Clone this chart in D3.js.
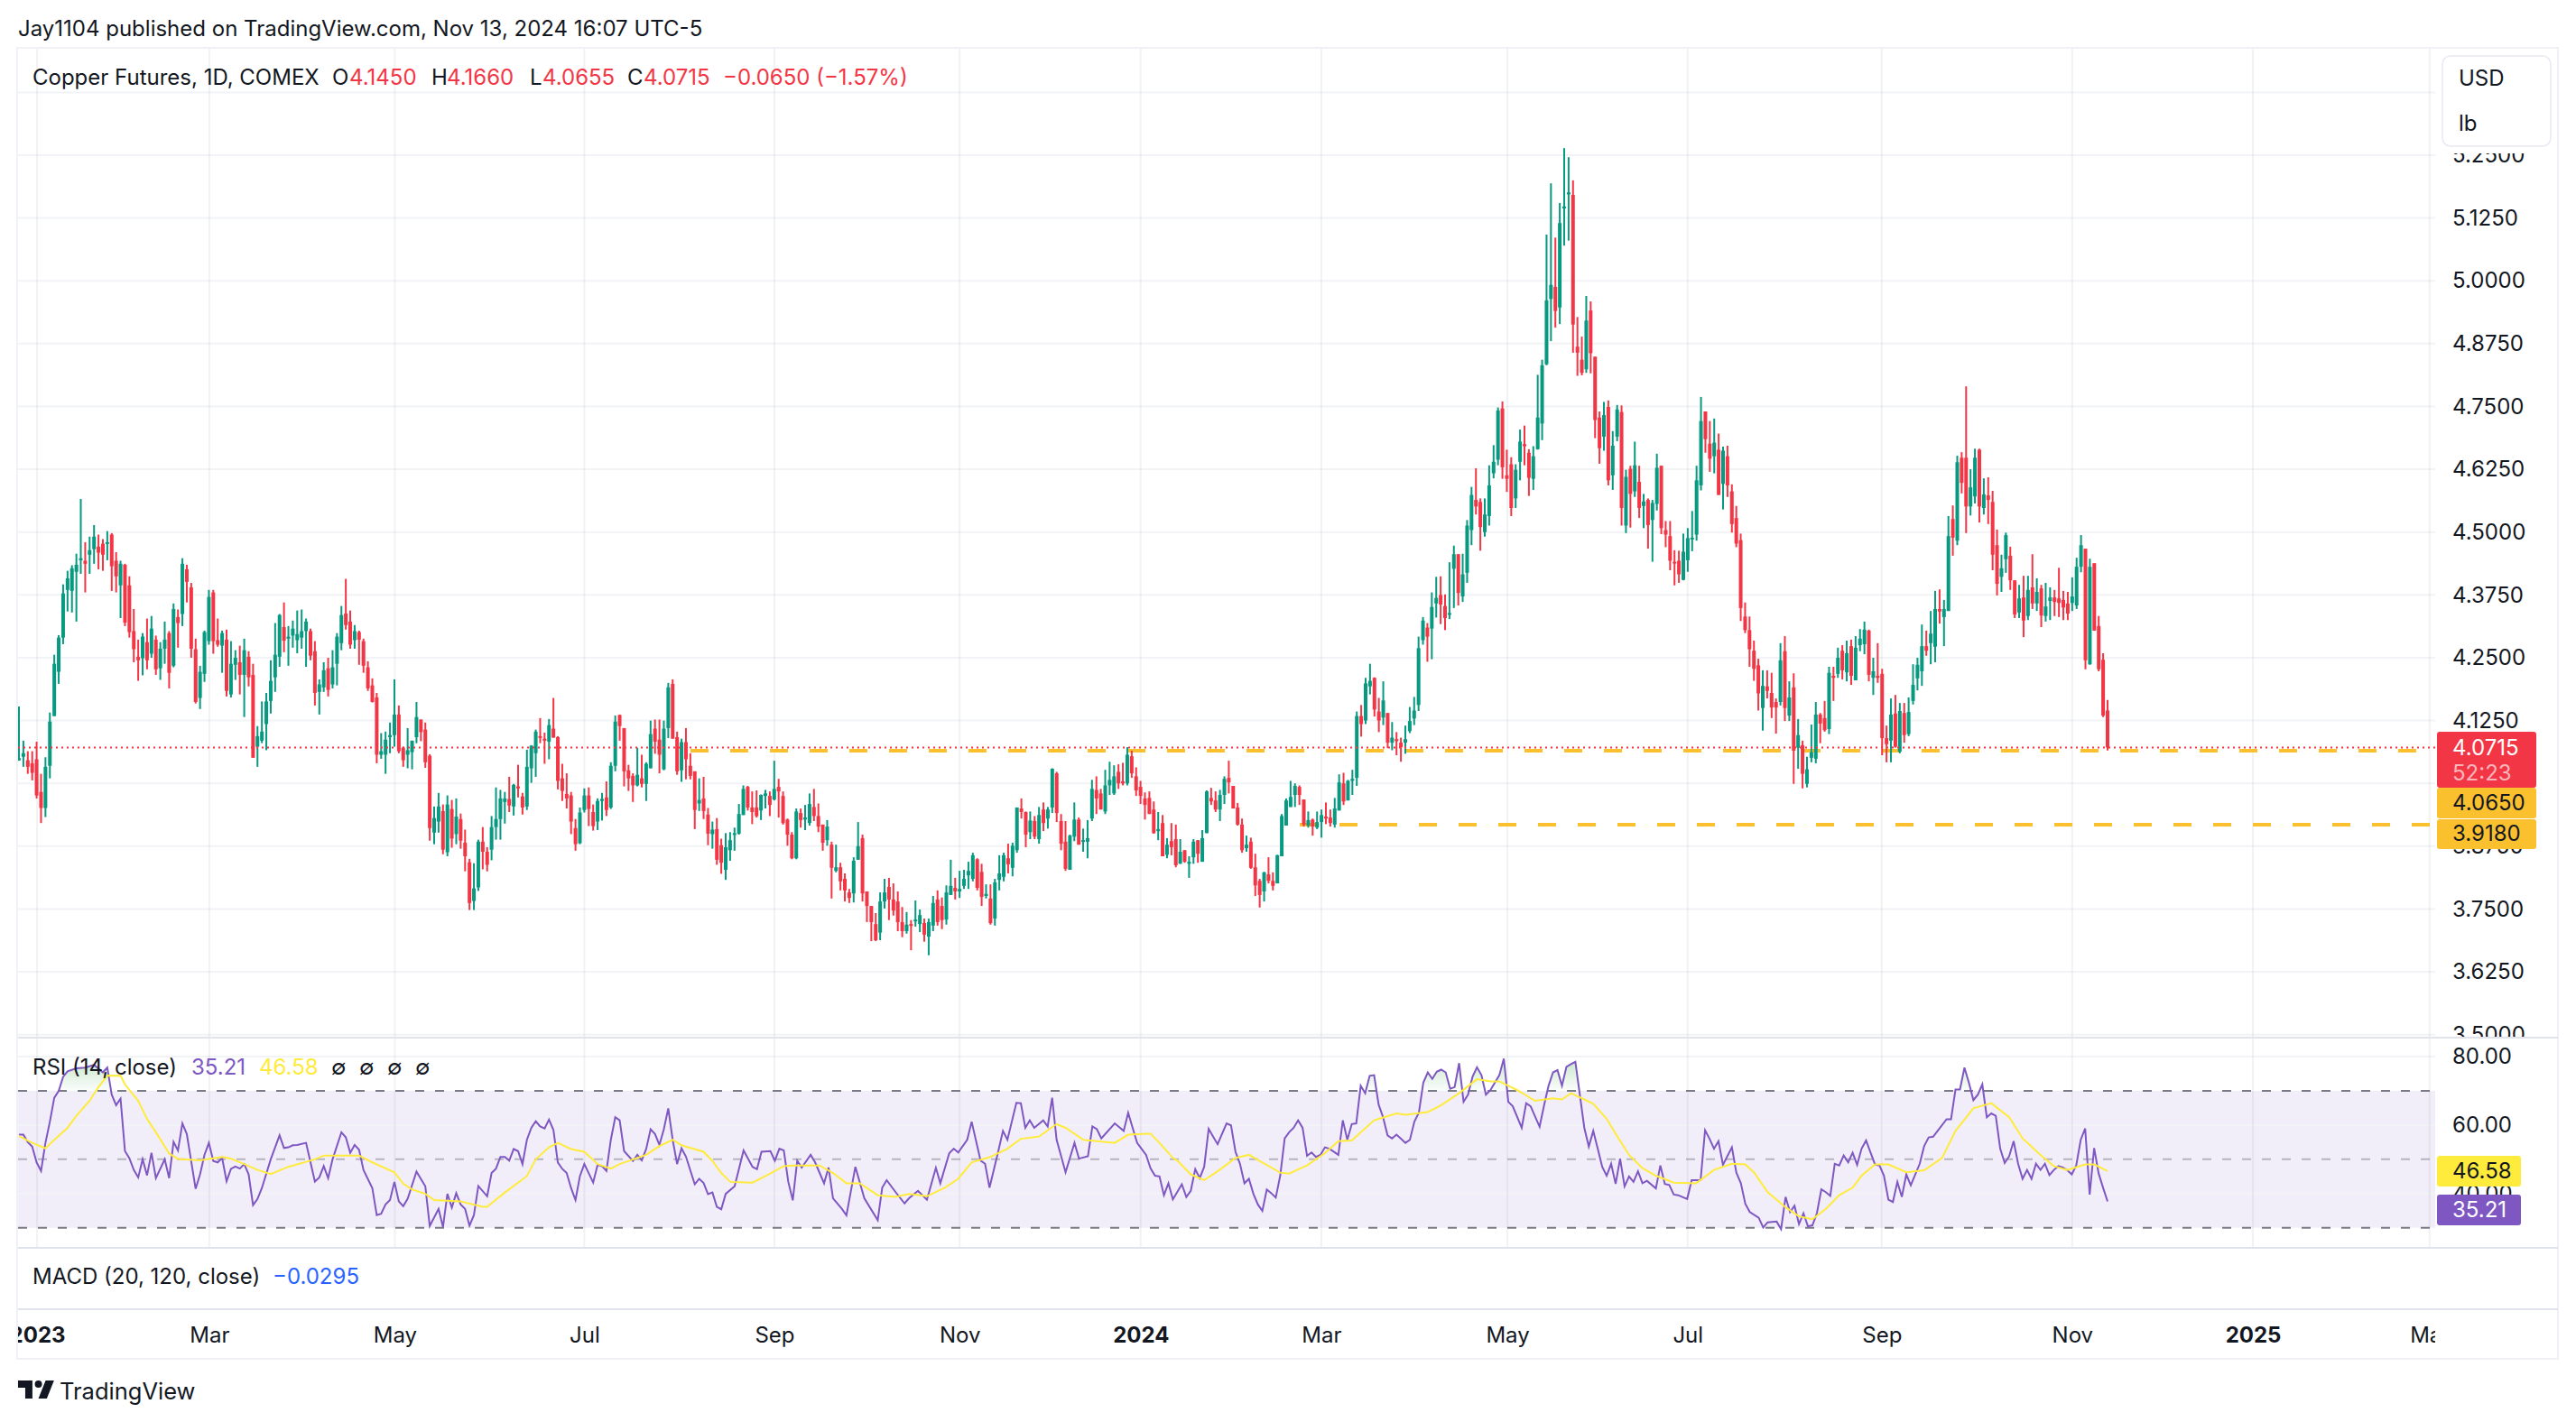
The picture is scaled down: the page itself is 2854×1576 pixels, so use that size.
<!DOCTYPE html>
<html>
<head>
<meta charset="utf-8">
<title>Copper Futures</title>
<script src="https://cdn.jsdelivr.net/npm/d3@7"></script>
<style>
	html, body { margin: 0; background: #fff; }
	svg { display: block; }
	text { font-family: Inter, "Noto Sans", sans-serif; fill: #131722; }
</style>
</head>
<body>
<svg id="chart" width="2854" height="1576"></svg>
<script>
const opens = [
	4.046,4.053,4.046,4.04,4.048,3.983,3.951,4.035,4.134,4.222,4.29,4.385,4.383,4.421,4.444,4.443,4.455,4.466,4.471,4.477,4.477,4.495,4.443,4.394,4.435,4.394,4.303,4.252,4.249,4.281,4.258,4.286,4.229,4.268,4.299,4.234,4.331,4.337,4.426,4.39,4.267,4.17,4.218,4.283,4.38,4.285,4.274,4.286,4.177,4.236,4.241,4.216,4.252,4.216,4.073,4.085,4.118,4.164,4.211,4.252,4.311,4.288,4.294,4.285,4.29,4.303,4.303,4.263,4.182,4.191,4.229,4.197,4.238,4.279,4.338,4.322,4.285,4.301,4.283,4.231,4.195,4.171,4.057,4.057,4.092,4.096,4.137,4.071,4.057,4.062,4.092,4.127,4.107,4.055,3.902,3.924,3.945,3.863,3.949,3.899,3.929,3.882,3.843,3.766,3.793,3.884,3.864,3.868,3.913,3.929,3.963,3.969,3.954,3.994,3.974,3.954,4.03,4.06,4.094,4.089,4.083,4.109,4.092,4.01,3.979,3.976,3.911,3.881,3.947,3.976,3.943,3.924,3.965,3.972,3.952,4.035,4.136,4.11,4.026,4.015,3.996,4.01,3.999,4.03,4.109,4.087,4.028,4.11,4.198,4.092,4.026,4.082,4.035,4.024,3.96,3.97,3.938,3.899,3.909,3.877,
	3.828,3.867,3.898,3.9,3.937,3.993,3.952,3.952,3.946,3.975,3.975,3.968,3.993,3.975,3.928,3.898,3.851,3.941,3.928,3.921,3.953,3.935,3.918,3.887,3.878,3.826,3.833,3.81,3.783,3.781,3.848,3.891,3.785,3.756,3.72,3.703,3.765,3.794,3.769,3.765,3.724,3.706,3.72,3.726,3.72,3.722,3.695,3.717,3.769,3.756,3.729,3.778,3.792,3.785,3.796,3.817,3.81,3.849,3.824,3.776,3.771,3.731,3.808,3.814,3.851,3.832,3.867,3.95,3.943,3.903,3.925,3.889,3.948,3.93,3.952,4.02,3.925,3.884,3.828,3.894,3.928,3.884,3.884,3.93,3.987,3.98,3.944,3.996,3.98,4.023,4.004,4.0,4.054,4.014,3.993,3.97,3.971,3.948,3.905,3.921,3.858,3.885,3.889,3.84,3.867,3.84,3.853,3.887,3.844,3.901,3.971,3.966,3.948,3.977,4.011,3.995,3.952,3.918,3.871,3.884,3.833,3.806,3.785,3.819,3.806,3.801,3.855,3.916,3.953,3.977,3.993,3.968,3.916,3.928,3.912,3.923,3.934,3.932,3.918,3.946,4.0,3.966,4.005,4.011,4.134,4.125,4.193,4.21,4.143,4.131,4.14,4.081,4.088,4.081,4.081,4.104,4.129,4.156,4.285,4.31,4.308,4.358,4.375,
	4.353,4.337,4.427,4.456,4.372,4.419,4.504,4.564,4.56,4.5,4.532,4.617,4.644,4.746,4.613,4.635,4.567,4.64,4.675,4.658,4.606,4.665,4.716,4.834,4.964,4.988,4.947,5.144,5.172,5.171,4.869,4.843,4.824,4.941,4.849,4.728,4.69,4.749,4.613,4.69,4.739,4.513,4.626,4.581,4.6,4.552,4.564,4.524,4.556,4.632,4.504,4.492,4.441,4.443,4.405,4.444,4.486,4.495,4.593,4.74,4.676,4.651,4.664,4.596,4.651,4.581,4.528,4.484,4.332,4.305,4.264,4.235,
	4.15,4.193,4.18,4.162,4.162,4.263,4.135,4.191,4.071,4.076,3.999,4.051,4.049,4.137,4.13,4.108,4.214,4.218,4.264,4.221,4.273,4.205,4.275,4.277,4.304,4.21,4.214,4.218,4.09,4.085,4.139,4.063,4.14,4.098,4.164,4.209,4.223,4.273,4.279,4.272,4.347,4.331,4.343,4.526,4.483,4.648,4.648,4.551,4.571,4.664,4.548,4.573,4.56,4.474,4.411,4.446,4.453,4.404,4.34,4.37,4.333,4.39,4.358,4.388,4.333,4.363,4.37,4.368,4.365,4.358,4.359,4.354,4.431,4.467,4.237,4.438,4.313,4.246,4.145
];
const highs = [
	4.153,4.085,4.064,4.064,4.083,4.019,4.052,4.141,4.256,4.295,4.396,4.423,4.434,4.457,4.566,4.48,4.491,4.514,4.495,4.486,4.502,4.498,4.46,4.443,4.437,4.412,4.347,4.286,4.299,4.328,4.333,4.294,4.281,4.322,4.303,4.358,4.346,4.448,4.435,4.399,4.288,4.234,4.304,4.385,4.385,4.328,4.304,4.306,4.283,4.265,4.274,4.288,4.263,4.238,4.114,4.163,4.18,4.245,4.319,4.337,4.36,4.313,4.324,4.344,4.346,4.328,4.308,4.283,4.207,4.241,4.25,4.265,4.299,4.353,4.407,4.344,4.315,4.304,4.288,4.243,4.209,4.18,4.1,4.103,4.121,4.207,4.155,4.073,4.11,4.085,4.162,4.127,4.121,4.058,3.954,3.981,3.958,3.976,3.967,3.97,3.94,3.908,3.85,3.841,3.888,3.913,3.873,3.935,3.992,3.987,3.983,4.013,3.999,4.037,3.981,4.067,4.076,4.107,4.13,4.101,4.128,4.17,4.094,4.039,4.02,3.983,3.929,3.952,3.99,3.992,3.958,3.97,3.981,4.004,4.042,4.135,4.137,4.11,4.037,4.02,4.071,4.057,4.042,4.125,4.127,4.127,4.125,4.2,4.207,4.103,4.089,4.11,4.06,4.024,4.01,4.013,3.951,3.924,3.931,3.89,
	3.901,3.903,3.912,3.959,3.996,3.995,3.984,3.986,3.978,3.987,3.984,4.045,4.009,3.984,3.93,3.903,3.95,3.95,3.957,3.98,3.989,3.96,3.918,3.927,3.884,3.878,3.842,3.821,3.79,3.853,3.923,3.898,3.785,3.756,3.742,3.783,3.81,3.812,3.801,3.785,3.754,3.744,3.728,3.767,3.749,3.731,3.731,3.776,3.787,3.773,3.797,3.848,3.812,3.826,3.828,3.844,3.862,3.851,3.84,3.799,3.799,3.81,3.857,3.862,3.88,3.882,3.952,3.97,3.944,3.944,3.935,3.953,3.962,3.953,4.03,4.023,3.939,3.925,3.898,3.962,3.932,3.91,3.927,4.007,4.014,3.989,4.027,4.043,4.036,4.038,4.041,4.072,4.065,4.032,4.005,3.982,3.984,3.964,3.943,3.937,3.891,3.921,3.918,3.889,3.867,3.855,3.889,3.887,3.907,3.986,3.991,3.984,3.987,4.014,4.045,3.995,3.961,3.93,3.896,3.892,3.86,3.81,3.824,3.853,3.823,3.858,3.939,3.97,4.005,4.0,3.996,3.968,3.944,3.93,3.944,3.948,3.962,3.948,3.971,4.018,4.021,4.007,4.027,4.143,4.156,4.21,4.238,4.211,4.17,4.203,4.14,4.122,4.102,4.091,4.115,4.152,4.172,4.292,4.331,4.319,4.38,4.411,4.412,
	4.376,4.44,4.473,4.456,4.457,4.524,4.59,4.627,4.567,4.567,4.633,4.673,4.748,4.76,4.664,4.649,4.635,4.704,4.712,4.665,4.671,4.813,4.843,5.092,5.194,5.086,5.155,5.264,5.246,5.2,4.928,4.889,4.97,4.959,4.849,4.74,4.759,4.762,4.701,4.753,4.752,4.624,4.632,4.68,4.632,4.576,4.567,4.564,4.656,4.632,4.522,4.522,4.464,4.463,4.497,4.508,4.542,4.632,4.769,4.74,4.721,4.726,4.696,4.67,4.672,4.595,4.552,4.497,4.36,4.332,4.284,4.248,
	4.225,4.225,4.22,4.169,4.279,4.293,4.203,4.219,4.128,4.085,4.053,4.117,4.162,4.14,4.164,4.232,4.232,4.27,4.275,4.284,4.286,4.293,4.307,4.322,4.306,4.25,4.279,4.228,4.115,4.169,4.176,4.16,4.16,4.171,4.237,4.25,4.316,4.304,4.343,4.383,4.386,4.365,4.532,4.553,4.652,4.659,4.79,4.625,4.666,4.666,4.607,4.609,4.582,4.505,4.455,4.499,4.471,4.404,4.395,4.413,4.413,4.456,4.408,4.395,4.399,4.39,4.385,4.429,4.383,4.381,4.41,4.449,4.494,4.467,4.447,4.438,4.333,4.259,4.166
];
const lows = [
	4.045,4.033,4.019,4.006,3.97,3.921,3.933,4.01,4.134,4.198,4.277,4.342,4.34,4.322,4.417,4.38,4.417,4.437,4.426,4.423,4.444,4.383,4.38,4.329,4.313,4.29,4.241,4.204,4.215,4.227,4.25,4.216,4.206,4.238,4.189,4.231,4.27,4.313,4.36,4.25,4.159,4.148,4.202,4.276,4.258,4.272,4.22,4.173,4.171,4.206,4.177,4.132,4.193,4.051,4.033,4.08,4.066,4.139,4.182,4.232,4.261,4.234,4.27,4.259,4.268,4.232,4.245,4.155,4.137,4.182,4.173,4.189,4.195,4.265,4.306,4.268,4.268,4.236,4.22,4.184,4.161,4.04,4.049,4.019,4.06,4.073,4.06,4.033,4.03,4.028,4.08,4.084,4.031,3.886,3.879,3.902,3.859,3.855,3.872,3.879,3.87,3.825,3.748,3.748,3.786,3.829,3.825,3.847,3.888,3.888,3.92,3.943,3.936,3.972,3.938,3.947,4.001,4.013,4.08,4.039,4.048,4.091,3.988,3.965,3.95,3.899,3.866,3.879,3.942,3.915,3.906,3.907,3.926,3.935,3.949,4.024,4.085,3.994,3.985,3.963,3.994,3.992,3.965,4.03,4.059,4.02,4.026,4.09,4.089,4.017,4.003,4.008,4.008,3.909,3.945,3.929,3.877,3.87,3.838,3.82,
	3.808,3.846,3.866,3.898,3.937,3.946,3.919,3.932,3.927,3.95,3.935,3.966,3.932,3.918,3.876,3.849,3.849,3.912,3.907,3.916,3.925,3.903,3.866,3.876,3.771,3.823,3.787,3.765,3.762,3.763,3.848,3.765,3.724,3.686,3.686,3.688,3.751,3.728,3.737,3.706,3.694,3.701,3.668,3.715,3.704,3.685,3.658,3.706,3.717,3.71,3.719,3.778,3.769,3.772,3.79,3.79,3.805,3.787,3.756,3.771,3.719,3.717,3.787,3.805,3.821,3.815,3.862,3.93,3.873,3.889,3.889,3.88,3.905,3.91,3.941,3.923,3.867,3.826,3.828,3.885,3.878,3.864,3.851,3.925,3.939,3.948,3.939,3.977,3.977,3.989,3.996,3.996,4.011,3.975,3.959,3.928,3.939,3.9,3.887,3.855,3.851,3.857,3.833,3.84,3.842,3.812,3.84,3.842,3.844,3.901,3.957,3.943,3.925,3.959,3.98,3.95,3.916,3.862,3.864,3.83,3.776,3.753,3.765,3.801,3.787,3.801,3.855,3.916,3.953,3.953,3.957,3.914,3.912,3.896,3.909,3.892,3.919,3.914,3.912,3.946,3.957,3.966,3.977,3.995,4.093,4.118,4.177,4.133,4.102,4.116,4.07,4.066,4.056,4.043,4.059,4.1,4.116,4.144,4.276,4.242,4.247,4.33,4.317,
	4.305,4.327,4.349,4.354,4.361,4.399,4.474,4.535,4.463,4.491,4.513,4.607,4.633,4.606,4.58,4.532,4.548,4.603,4.633,4.572,4.584,4.664,4.683,4.832,4.88,4.907,4.914,5.07,5.08,4.857,4.811,4.812,4.817,4.816,4.687,4.636,4.662,4.593,4.584,4.681,4.513,4.498,4.509,4.57,4.528,4.508,4.467,4.441,4.543,4.496,4.47,4.424,4.394,4.399,4.404,4.421,4.462,4.483,4.583,4.658,4.62,4.617,4.574,4.545,4.57,4.499,4.47,4.323,4.299,4.232,4.204,4.145,
	4.105,4.169,4.13,4.099,4.155,4.124,4.124,3.999,4.029,3.99,3.992,4.042,4.04,4.08,4.103,4.098,4.164,4.21,4.207,4.203,4.196,4.205,4.263,4.257,4.203,4.176,4.2,4.056,4.042,4.042,4.071,4.06,4.081,4.094,4.157,4.185,4.194,4.254,4.237,4.241,4.318,4.273,4.343,4.453,4.474,4.577,4.498,4.533,4.557,4.519,4.535,4.516,4.424,4.374,4.381,4.419,4.385,4.329,4.329,4.291,4.325,4.347,4.343,4.311,4.322,4.325,4.333,4.331,4.325,4.325,4.343,4.347,4.42,4.227,4.236,4.304,4.223,4.132,4.0655
];
const closes = [
	4.05,4.06,4.033,4.021,3.976,3.951,4.033,4.123,4.238,4.29,4.378,4.408,4.428,4.435,4.448,4.437,4.464,4.491,4.459,4.455,4.48,4.432,4.412,4.437,4.32,4.301,4.267,4.245,4.292,4.245,4.308,4.227,4.268,4.286,4.22,4.347,4.319,4.437,4.401,4.268,4.162,4.222,4.301,4.371,4.283,4.276,4.299,4.184,4.238,4.25,4.216,4.265,4.211,4.051,4.094,4.103,4.163,4.204,4.256,4.335,4.284,4.292,4.308,4.297,4.303,4.322,4.254,4.18,4.197,4.225,4.186,4.231,4.292,4.335,4.315,4.276,4.303,4.286,4.234,4.189,4.162,4.057,4.064,4.087,4.096,4.137,4.064,4.046,4.066,4.085,4.132,4.102,4.042,3.911,3.931,3.954,3.868,3.958,3.89,3.934,3.886,3.855,3.762,3.791,3.884,3.864,3.838,3.913,3.929,3.97,3.97,3.956,3.997,3.99,3.952,4.033,4.075,4.103,4.091,4.085,4.116,4.091,4.005,3.985,3.97,3.924,3.879,3.942,3.976,3.949,3.915,3.965,3.969,3.947,4.035,4.123,4.114,4.024,4.01,3.996,4.017,3.999,4.039,4.098,4.083,4.057,4.109,4.191,4.089,4.024,4.082,4.048,4.015,3.947,3.967,3.945,3.9,3.908,3.848,3.842,
	3.873,3.887,3.901,3.939,3.989,3.952,3.943,3.935,3.977,3.98,3.957,3.989,3.984,3.921,3.898,3.851,3.944,3.927,3.932,3.959,3.935,3.914,3.882,3.914,3.832,3.833,3.805,3.787,3.772,3.846,3.875,3.781,3.756,3.724,3.688,3.765,3.783,3.769,3.747,3.724,3.706,3.719,3.717,3.729,3.738,3.699,3.724,3.762,3.724,3.728,3.783,3.796,3.785,3.79,3.81,3.826,3.857,3.792,3.774,3.78,3.722,3.803,3.821,3.857,3.839,3.876,3.952,3.943,3.898,3.926,3.894,3.937,3.921,3.948,4.029,3.941,3.88,3.83,3.896,3.928,3.878,3.887,3.891,3.989,3.97,3.948,3.996,4.007,4.014,4.0,4.0,4.057,4.02,3.986,3.975,3.957,3.939,3.901,3.909,3.855,3.878,3.873,3.837,3.864,3.844,3.844,3.884,3.86,3.891,3.984,3.964,3.948,3.977,4.009,4.002,3.95,3.918,3.867,3.878,3.832,3.797,3.778,3.823,3.806,3.796,3.857,3.935,3.966,3.973,3.995,3.977,3.918,3.927,3.914,3.923,3.937,3.93,3.921,3.95,4.002,3.964,4.005,4.009,4.134,4.118,4.199,4.204,4.147,4.125,4.165,4.081,4.091,4.084,4.072,4.088,4.124,4.145,4.269,4.324,4.292,4.351,4.369,4.356,
	4.329,4.339,4.456,4.379,4.416,4.513,4.574,4.551,4.51,4.535,4.593,4.64,4.742,4.629,4.606,4.548,4.624,4.68,4.671,4.608,4.651,4.728,4.832,4.961,4.992,4.94,5.115,5.148,5.176,4.913,4.857,4.817,4.921,4.856,4.723,4.667,4.733,4.603,4.672,4.744,4.548,4.61,4.576,4.633,4.548,4.561,4.514,4.558,4.628,4.508,4.495,4.443,4.438,4.416,4.461,4.488,4.489,4.603,4.721,4.685,4.646,4.678,4.574,4.662,4.593,4.516,4.477,4.349,4.305,4.267,4.228,4.179,
	4.194,4.184,4.151,4.151,4.245,4.15,4.171,4.065,4.096,4.019,4.028,4.062,4.137,4.119,4.106,4.22,4.21,4.25,4.225,4.259,4.214,4.27,4.288,4.306,4.216,4.223,4.21,4.09,4.078,4.137,4.073,4.144,4.096,4.142,4.196,4.236,4.273,4.264,4.298,4.347,4.342,4.347,4.492,4.489,4.639,4.598,4.551,4.589,4.648,4.551,4.575,4.564,4.455,4.397,4.428,4.494,4.404,4.336,4.368,4.324,4.385,4.358,4.381,4.334,4.352,4.37,4.361,4.359,4.35,4.338,4.372,4.431,4.474,4.245,4.431,4.304,4.227,4.135,4.0715
];

// RSI line, read at its turning points: session number and value
const rsiBars = [
	0,1,2,3,4,5,6,7,8,9,10,11,13,15,17,19,20,21,22,23,24,25,26,27,28,29,30,31,33,34,35,36,37,38,40,41,42,43,44,45,46,47,48,49,50,51,52,53,54,55,57,59,60,61,62,63,65,67,68,69,70,71,73,74,75,76,77,78,80,81,82,83,84,85,86,87,88,90,92,93,95,96,97,98,99,100,101,102,103,104,106,107,108,109,110,111,112,113,114,115,116,117,118,119,120,121,122,123,124,125,126,127,128,130,131,132,133,134,135,136,137,139,140,141,142,143,144,145,146,147,148,149,150,151,153,154,155,156,157,158,159,
	160,162,164,166,167,168,170,171,172,173,174,175,176,177,179,180,182,183,184,186,187,189,191,194,195,196,198,200,201,203,205,207,208,210,211,212,214,215,217,218,219,221,222,223,225,226,227,228,229,231,232,233,234,236,238,239,241,242,243,244,247,249,250,251,252,254,255,256,257,258,259,
	260,262,263,264,265,266,267,268,269,270,272,273,274,275,276,277,278,279,280,281,282,
	283,284,285,286,287,288,289,290,291,292,293,294,295,297,298,299,300,301,302,303,304,305,306,307,308,309,310,311,312,313,314,315,316,317,318,319,320,321,322,323,324,325,326,327,328,329,330,331,333,334,335,336,338,339,340,342,343,344,345,346,347,348,349,350,352,353,354,355,356,357,358,359,360,361,362,363,364,365,366,368,369,370,371,372,373,375,376,378,379,380,381,382,383,385,386,387,388,389,391,392,393,395,396,397,398,399,400,401,402,403,404,405,406,407,408,409,410,411,412,413,414,415,417,418,419,420,421,422,423,424,425,427,428,429,430,431,433,434,435,436,437,438,439,440,441,442,443,444,445,446,447,448,449,450,451,452,453,454,455,456,457,458,459,460,461,462,463,464,465,466,467,468,469
];
const rsiValues = [
	57.2,57.2,55,53.7,49.1,46.6,54.8,61,68,70,74.1,75.7,76.6,76.8,77.6,75.4,76.8,68.9,65.8,67.7,52.4,50.3,46.9,44.7,50,45.3,51.9,44.5,50,44.5,55.1,52.6,60.5,57.4,41.4,45.6,51.3,54.8,49.5,49.1,50.4,43.6,47.2,47.9,47.3,48.6,45.6,36.6,38.4,41.6,50,57,53.3,53.5,54.1,54.2,54.8,43.5,44.7,48,44.5,50,57.9,56.4,51.9,54.2,52.8,46.9,41.6,33.7,34.1,36.8,38.1,43.4,37.7,36.3,38.5,46.4,42.1,30.5,35.5,30.2,39.9,35.9,40.1,36.8,35.5,30.6,33.7,42.2,39.2,46,47.3,50.7,50.7,49.6,53,52.4,48.6,55.7,59.2,61.1,59.6,59,61.6,58.6,49.1,47.2,46,41.6,38.1,45.1,48.6,43.2,48.4,48,46.6,55.7,62.3,61.4,52.4,49.5,51.3,49.7,53,58.8,57.4,54.2,58.8,64.9,55.7,48.6,53.2,50.8,42.7,44.3,43.1,39.8,40.3,36.1,35.4,
	39.9,42.1,52.6,47.8,47.1,52.2,52.4,49.6,53.1,52.6,43.4,38,49.6,47.6,51.3,49.1,43,47.6,38.6,35.5,33.6,47.8,38.6,32.2,41.7,43.9,40.4,37.1,38.6,40.8,38.2,47.5,43,51.8,53.1,52,55.7,61,49.6,48.7,41.7,52.6,58.3,55.7,66.5,66.4,59.2,61.4,59.2,61.4,59.6,68,55.7,46.2,54.8,50.2,50.9,59.6,58.8,56.1,60.5,58.3,63.6,59.2,54.8,51.3,47.4,45.2,45,39.5,43,
	38.3,42.7,39,40.8,47.1,44.5,47.8,58.9,56.6,54.4,60.5,59.9,52.2,48.7,43,44.3,39.9,36.8,34.9,41.2,40.1,
	38.8,45.2,56.1,57.9,59.2,61.4,59.2,51,52,50.7,51.3,53.5,53.1,51.3,61.4,55.7,60.3,60.5,71.5,69.3,74.4,74.6,66,62.3,57,56.1,57.2,56,54.8,55.7,61,63.6,72.4,75.4,73.5,75.6,76.2,75.4,70.6,71.1,78.1,66.8,68.9,74.1,76.9,74.6,68.9,70.2,74.6,79.4,66.8,65.5,59.2,66.4,65.5,59.5,65.8,71.5,75.4,76.1,71.5,77,77.8,78.5,59.2,53.7,58.3,53.1,47.8,45.2,48.7,42.8,50.2,42.1,45,43.4,46.5,43,43.7,41.5,48.2,42.8,42.5,39.7,39.5,38.4,43.9,43.9,58.5,56,53.1,55.3,48.4,53.5,46.1,43,37,34.6,32.9,30.1,31.6,31.8,29.6,39,34.6,36.4,31.1,34.2,30.4,30.7,34.2,41.2,40.4,39.3,48.7,48.2,51.1,49.1,51.9,48.4,53.1,55.5,48.5,48.2,45.2,38.2,37.5,43.4,39,45.6,42.4,48.7,53.9,56.4,56.6,58.3,61.7,61.7,70.4,70.4,76.8,72.4,67.3,68.9,71.9,62.3,63.4,62.7,53.1,48.9,50.9,55.3,48.7,44.3,46.9,44.3,48.7,46.9,48.7,45.4,46.9,48,47.6,46.8,45.6,48.2,55.7,59,39.7,53.3,45.9,41.7,37.7,35.21
];

const rsiMaBars = [
	0,3,6,8,11,13,16,18,20,23,24,27,29,31,34,36,41,46,48,51,54,57,61,67,69,77,80,85,87,89,92,94,100,105,106,110,115,117,120,122,125,128,131,134,136,142,145,148,150,155,157,159,
	161,166,169,173,175,181,184,187,190,194,198,201,205,209,212,215,219,223,226,230,234,236,240,247,250,255,257,260,
	261,264,267,270,274,277,280,284,286,290,294,297,300,305,310,312,317,320,324,328,331,333,337,341,345,347,349,352,354,357,359,362,365,368,372,377,381,385,388,390,393,397,400,403,406,409,412,414,417,420,424,428,432,435,439,443,447,450,454,457,460,464,466,469
];
const rsiMaValues = [
	56.8,54.8,53.2,55.7,59.2,62.7,67.1,71.1,74.5,74.4,71.9,67.1,61.8,57.9,51.7,50.1,49.7,50.7,50.2,48.6,46.9,45.7,47.8,50,51.1,51.1,49.1,46.2,42.9,41.2,39.9,38.1,37.7,36.1,36.1,40.3,45.1,50,53.5,54.8,53,52.2,48.6,47.3,48.6,51.3,53.9,55.7,54.1,52.2,49.5,46,
	43.4,43.2,45.2,48,48.2,48.2,46,43,43,39.5,39,39.9,39.2,41.7,44.3,49.1,50.6,53.1,56,56.6,60.3,59.2,55.7,54.8,57.2,57.5,54.8,50.4,
	49.6,45.6,43.9,46.5,50.4,51.3,49.1,46.1,45.8,48.2,51.8,55.3,55.5,61.4,63.4,63,63.8,65.8,69.3,73.4,72.8,72.8,70.2,67.1,67.8,67.5,69.3,67.5,66.2,61.8,57.5,51.3,47.4,45.2,43.2,43,46.9,48.7,48.5,46.1,40.4,36,33.3,32.5,35.5,39.5,41.7,45.2,48.5,48.5,46.2,46.8,50.4,58.3,64.9,66.4,62.3,56.1,51.3,48,46.9,48.5,48.5,46.58
];

const priceTicks = [3.5,3.625,3.75,3.875,4,4.125,4.25,4.375,4.5,4.625,4.75,4.875,5,5.125,5.25];
const priceGridExtra = [5.375];
const rsiTicks = [40,60,80];
const timeTicks = [4.1,43.1,85.1,128,170.9,212.3,252.8,293.2,334.8,375.1,418.5,461.1,501.5,541];
const timeLabels = ['2023','Mar','May','Jul','Sep','Nov','2024','Mar','May','Jul','Sep','Nov','2025','Mar'];

const lastClose = 4.0715;
const levelUpper = 4.065;
const levelLower = 3.918;
const rsiLast = 35.21;
const rsiMaLast = 46.58;

const green = '#089981';
const red = '#f23645';
const amber = '#fbc02d';
const purple = '#7e57c2';
const yellow = '#ffeb3b';
const gridColor = '#f2f3f6';
const borderColor = '#f0f1f7';
const paneLine = '#e0e3eb';

const plotLeft = 20, plotRight = 2698, frameRight = 2834, frameTop = 54;
const mainBottom = 1149, rsiBottom = 1383, macdBottom = 1451, axisBottom = 1506;

// time axis and RSI share one session count, the candles are anchored on their own
const x = d3.scaleLinear().domain([0, 160, 469]).range([21, 804, 2335]);
const barX = d3.scaleLinear().domain([0, 160, 323, 395, 473]).range([21, 804, 1601, 1953, 2335]);
const y = d3.scaleLinear().domain([3.5, 5.25]).range([1146.7, 172]);
const rsiY = d3.scaleLinear().domain([30, 70]).range([1360.7, 1209]);

const svg = d3.select('#chart');
const defs = svg.append('defs');

function clip(id, cx, cy, w, h) {
	defs.append('clipPath').attr('id', id).append('rect')
		.attr('x', cx).attr('y', cy).attr('width', w).attr('height', h);
}
clip('clip-main', plotLeft, frameTop, plotRight - plotLeft, mainBottom - frameTop);
clip('clip-price', plotRight, frameTop, frameRight - plotRight, mainBottom - frameTop);
clip('clip-time', plotLeft, macdBottom, plotRight - plotLeft, axisBottom - macdBottom);
clip('clip-over', plotLeft, frameTop, plotRight - plotLeft, rsiY(70) - frameTop);
clip('clip-under', plotLeft, rsiY(30), plotRight - plotLeft, 40);

const overGrad = defs.append('linearGradient').attr('id', 'over-grad')
	.attr('gradientUnits', 'userSpaceOnUse')
	.attr('x1', 0).attr('x2', 0).attr('y1', rsiY(79)).attr('y2', rsiY(70));
overGrad.append('stop').attr('offset', 0).attr('stop-color', '#4caf50').attr('stop-opacity', 0.3);
overGrad.append('stop').attr('offset', 1).attr('stop-color', '#4caf50').attr('stop-opacity', 0.02);

// grid first, everything else sits on it
const hGrid = (g, scale, vals) => g.selectAll(null).data(vals).enter().append('line')
	.attr('x1', plotLeft).attr('x2', plotRight)
	.attr('y1', d => scale(d)).attr('y2', d => scale(d))
	.attr('stroke', gridColor).attr('stroke-width', 2);

const grid = svg.append('g');
hGrid(grid.append('g').attr('clip-path', 'url(#clip-main)'), y, priceTicks.concat(priceGridExtra));

// RSI band
svg.append('rect')
	.attr('x', plotLeft).attr('width', plotRight - plotLeft)
	.attr('y', rsiY(70)).attr('height', rsiY(30) - rsiY(70))
	.attr('fill', purple).attr('fill-opacity', 0.1);
hGrid(svg.append('g'), rsiY, rsiTicks);

svg.append('g').selectAll('line').data(timeTicks).enter().append('line')
	.attr('x1', d => x(d)).attr('x2', d => x(d))
	.attr('y1', frameTop).attr('y2', rsiBottom)
	.attr('stroke', '#787b86').attr('stroke-opacity', 0.1).attr('stroke-width', 2);

// frame and pane separators
const frame = svg.append('g').attr('stroke-width', 2);
frame.append('rect')
	.attr('x', plotLeft - 1).attr('y', frameTop - 1)
	.attr('width', frameRight - plotLeft + 1).attr('height', axisBottom - frameTop + 1)
	.attr('fill', 'none').attr('stroke', borderColor);
[mainBottom + 1, rsiBottom, macdBottom].forEach(py => {
	frame.append('line').attr('x1', plotLeft).attr('x2', frameRight)
		.attr('y1', py).attr('y2', py).attr('stroke', paneLine);
});

// horizontal levels under the candles
const plot = svg.append('g').attr('clip-path', 'url(#clip-main)');
const levels = [[levelUpper, 765], [levelLower, 1440]];
levels.forEach(([price, startX]) => {
	plot.append('line')
		.attr('x1', startX).attr('x2', plotRight)
		.attr('y1', y(price)).attr('y2', y(price))
		.attr('stroke', amber).attr('stroke-width', 4)
		.attr('stroke-dasharray', '20 24');
});

const bars = closes.map((c, i) => ({ i, o: opens[i], h: highs[i], l: lows[i], c }));
const barColor = d => d.c >= d.o ? green : red;

plot.selectAll('.wick').data(bars).enter().append('rect')
	.attr('class', 'wick')
	.attr('x', d => barX(d.i) - 1)
	.attr('width', 2)
	.attr('y', d => y(d.h))
	.attr('height', d => y(d.l) - y(d.h))
	.attr('fill', barColor);

plot.selectAll('.body').data(bars).enter().append('rect')
	.attr('class', 'body')
	.attr('x', d => barX(d.i) - 2)
	.attr('width', 4)
	.attr('y', d => y(Math.max(d.o, d.c)))
	.attr('height', d => Math.max(2, Math.abs(y(d.o) - y(d.c))))
	.attr('fill', barColor);

plot.append('line')
	.attr('x1', plotLeft).attr('x2', plotRight)
	.attr('y1', y(lastClose)).attr('y2', y(lastClose))
	.attr('stroke', red).attr('stroke-width', 2)
	.attr('stroke-dasharray', '2 4');

// RSI pane
const rsiPoints = rsiBars.map((b, i) => [b, rsiValues[i]]);
const rsiMaPoints = rsiMaBars.map((b, i) => [b, rsiMaValues[i]]);

[[70, '#787b86', 1], [50, '#787b86', 0.5], [30, '#787b86', 1]].forEach(([level, color, op]) => {
	svg.append('line')
		.attr('x1', plotLeft).attr('x2', plotRight)
		.attr('y1', rsiY(level)).attr('y2', rsiY(level))
		.attr('stroke', color).attr('stroke-opacity', op)
		.attr('stroke-width', 2).attr('stroke-dasharray', '10 12');
});

svg.append('path')
	.attr('clip-path', 'url(#clip-over)')
	.attr('d', d3.area().x(d => x(d[0])).y0(rsiY(70)).y1(d => rsiY(d[1]))(rsiPoints))
	.attr('fill', 'url(#over-grad)');
svg.append('path')
	.attr('clip-path', 'url(#clip-under)')
	.attr('d', d3.area().x(d => x(d[0])).y0(rsiY(30)).y1(d => rsiY(d[1]))(rsiPoints))
	.attr('fill', red).attr('fill-opacity', 0.1);

const rsiLine = d3.line().x(d => x(d[0])).y(d => rsiY(d[1]));
svg.append('path').attr('d', rsiLine(rsiPoints))
	.attr('fill', 'none').attr('stroke', purple).attr('stroke-width', 2);
svg.append('path').attr('d', rsiLine(rsiMaPoints))
	.attr('fill', 'none').attr('stroke', yellow).attr('stroke-width', 2);

// axes
const axisFont = g => {
	g.select('.domain').remove();
	g.selectAll('text').attr('font-size', 24);
	g.attr('font-family', null);
};

svg.append('g')
	.attr('clip-path', 'url(#clip-price)')
	.append('g')
	.attr('transform', `translate(${plotRight + 19},0)`)
	.call(d3.axisRight(y).tickValues(priceTicks).tickFormat(d3.format('.4f')).tickSize(0).tickPadding(0))
	.call(axisFont);

svg.append('g')
	.attr('transform', `translate(${plotRight + 19},0)`)
	.call(d3.axisRight(rsiY).tickValues(rsiTicks).tickFormat(d3.format('.2f')).tickSize(0).tickPadding(0))
	.call(axisFont);

const timeAxis = svg.append('g')
	.attr('clip-path', 'url(#clip-time)')
	.append('g')
	.attr('transform', 'translate(0,1471)')
	.call(d3.axisBottom(x).tickValues(timeTicks).tickFormat((_, i) => timeLabels[i]).tickSize(0).tickPadding(0))
	.call(axisFont);
timeAxis.selectAll('text')
	.attr('font-weight', (_, i) => /^\d/.test(timeLabels[i]) ? 700 : 400);

// unit box over the axis, it also hides the top of the 5.2500 label
svg.append('rect')
	.attr('x', 2700).attr('y', 56).attr('width', 132).attr('height', 114)
	.attr('fill', '#fff');
svg.append('rect')
	.attr('x', 2706).attr('y', 62).attr('width', 120).attr('height', 100).attr('rx', 9)
	.attr('fill', '#fff').attr('stroke', '#e8e9f2').attr('stroke-width', 1.5);
['USD', 'lb'].forEach((t, i) => {
	svg.append('text').attr('x', 2724).attr('y', 95 + i * 50).attr('font-size', 24).text(t);
});

// value tags
function tag(ty, th, w, fill, lines) {
	svg.append('rect')
		.attr('x', plotRight + 2).attr('y', ty).attr('width', w).attr('height', th).attr('rx', 3)
		.attr('fill', fill);
	lines.forEach(l => {
		svg.append('text')
			.attr('x', plotRight + 19).attr('y', l.y).attr('font-size', 24)
			.style('fill', l.color).style('fill-opacity', l.op === undefined ? 1 : l.op)
			.text(l.text);
	});
}
tag(811, 62, 110, red, [
	{ y: 837, text: d3.format('.4f')(lastClose), color: '#fff' },
	{ y: 865, text: '52:23', color: '#fff', op: 0.65 }
]);
tag(873, 34, 110, amber, [{ y: 898, text: d3.format('.4f')(levelUpper), color: '#131722' }]);
tag(908, 33, 110, amber, [{ y: 932, text: d3.format('.4f')(levelLower), color: '#131722' }]);
tag(1281, 34, 93, yellow, [{ y: 1306, text: rsiMaLast.toFixed(2), color: '#131722' }]);
tag(1324, 34, 93, purple, [{ y: 1349, text: rsiLast.toFixed(2), color: '#fff' }]);

// legend text
function label(tx, ty, text, color, size) {
	svg.append('text').attr('x', tx).attr('y', ty).attr('font-size', size || 24)
		.style('fill', color || '#131722').text(text);
}
label(20, 40, 'Jay1104 published on TradingView.com, Nov 13, 2024 16:07 UTC-5');
label(36, 94, 'Copper Futures, 1D, COMEX');
label(368, 94, 'O'); label(387, 94, '4.1450', red);
label(478, 94, 'H'); label(495, 94, '4.1660', red);
label(587, 94, 'L'); label(601, 94, '4.0655', red);
label(695, 94, 'C'); label(713, 94, '4.0715', red);
label(801, 94, '\u22120.0650 (\u22121.57%)', red);

label(36, 1191, 'RSI (14, close)');
label(212, 1191, rsiLast.toFixed(2), purple);
label(287, 1191, rsiMaLast.toFixed(2), yellow);
[367, 398, 429, 460].forEach(tx => label(tx, 1191, '\u2205'));

label(36, 1423, 'MACD (20, 120, close)');
label(302, 1423, '\u22120.0295', '#2962ff');

// footer logo
svg.append('path')
	.attr('transform', 'translate(17.3,1522) scale(1.33)')
	.attr('d', 'M14 6H2v6h6v9h6V6Zm12 15h-7l6-15h7l-6 15Zm-7-9a3 3 0 1 0 0-6 3 3 0 0 0 0 6Z')
	.attr('fill', '#131722');
label(66, 1551, 'TradingView', '#131722', 25.5);
</script>
</body>
</html>
